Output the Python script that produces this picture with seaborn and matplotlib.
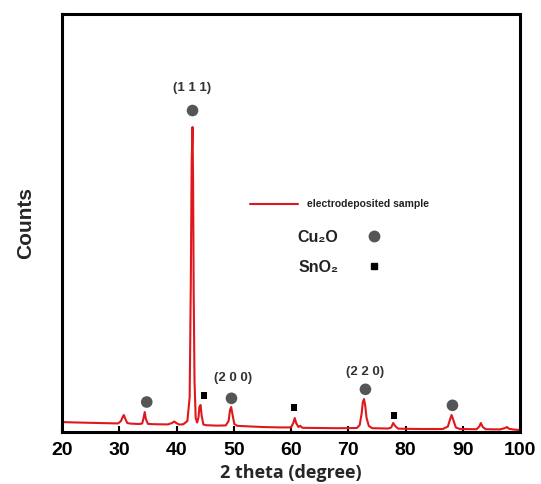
import numpy as np
import matplotlib
matplotlib.use("Agg")
import matplotlib.pyplot as plt
from matplotlib.lines import Line2D
import seaborn as sns

# XRD pattern (2 theta in degrees, counts in arbitrary units)
two_theta = [20.0, 22.0, 25.0, 28.0, 29.8, 30.3, 30.6, 30.8, 31.0, 31.4, 32.0, 33.5,
             34.0, 34.25, 34.45, 34.65, 35.0, 36.0, 38.5, 39.2, 39.6, 40.0, 40.5, 41.2,
             41.9, 42.3, 42.5, 42.65, 42.8, 42.9, 43.0, 43.15, 43.35, 43.6, 43.85, 44.0,
             44.2, 44.4, 44.7, 45.2, 47.0, 48.6, 49.1, 49.35, 49.55, 49.8, 50.1, 50.6,
             52.0, 55.0, 58.0, 60.0, 60.4, 60.65, 60.9, 61.3, 61.6, 62.0, 65.0, 68.0,
             71.5, 72.0, 72.35, 72.55, 72.75, 72.95, 73.2, 73.6, 74.2, 77.0, 77.5, 77.85,
             78.2, 78.7, 80.0, 83.0, 86.5, 87.4, 87.8, 88.05, 88.35, 88.8, 89.5, 92.4,
             92.9, 93.15, 93.5, 94.0, 96.5, 97.4, 97.7, 98.1, 99.0, 100.0]
counts = [100, 96, 92, 88, 86, 110, 150, 170, 140, 90, 84, 80,
          85, 140, 200, 130, 82, 78, 76, 90, 105, 88, 74, 78,
          110, 350, 1500, 2700, 3050, 2500, 1400, 500, 140, 95, 150, 250,
          270, 160, 75, 68, 64, 66, 110, 220, 250, 170, 80, 62,
          58, 50, 46, 46, 90, 140, 90, 50, 62, 42, 40, 38,
          40, 70, 190, 300, 330, 270, 140, 60, 38, 35, 45, 90,
          60, 34, 32, 30, 30, 55, 130, 170, 120, 45, 30, 28,
          55, 90, 50, 28, 26, 40, 50, 32, 24, 20]

# phase markers
cu2o_theta = [34.8, 42.8, 49.6, 73.0, 88.2]
cu2o_counts = [300, 3215, 337, 427, 267]
sno2_theta = [44.8, 60.5, 78.0]
sno2_counts = [367, 247, 167]

# Miller index labels
hkl_labels = ["(1 1 1)", "(2 0 0)", "(2 2 0)"]
hkl_theta = [42.8, 49.9, 72.9]
hkl_counts = [3440, 537, 597]

red = "#e0181b"
grey = "#555555"

sns.set_theme(style="white")
plt.rcParams["font.family"] = ["Liberation Sans", "DejaVu Sans"]

fig = plt.figure(figsize=(5.41, 4.84), dpi=100)
ax = fig.add_axes([0.1146, 0.1074, 0.8466, 0.8636])

sns.lineplot(x=two_theta, y=counts, ax=ax, color=red, linewidth=1.5,
             estimator=None, sort=False)
sns.scatterplot(x=cu2o_theta, y=cu2o_counts, ax=ax, color=grey, marker="o",
                s=70, edgecolor="none")
sns.scatterplot(x=sno2_theta, y=sno2_counts, ax=ax, color="black", marker="s",
                s=22, edgecolor="none")

for lab, tx, ty in zip(hkl_labels, hkl_theta, hkl_counts):
    ax.text(tx, ty, lab, ha="center", va="center", fontsize=9.5,
            fontweight="bold", color="#333333")

ax.set_xlim(20, 100)
ax.set_ylim(0, 4180)
ax.set_xticks(np.arange(20, 101, 10))
ax.set_yticks([])
ax.tick_params(axis="x", direction="in", length=4, width=1.5, bottom=True,
               labelsize=14, pad=7, colors="black")
for lab in ax.get_xticklabels():
    lab.set_fontweight("bold")
for sp in ax.spines.values():
    sp.set_linewidth(2.2)
    sp.set_color("black")

ax.set_xlabel("2 theta (degree)", fontsize=13, fontweight="bold", labelpad=4,
              family=["Open Sans", "DejaVu Sans"])
ax.set_ylabel("Counts", fontsize=15, fontweight="bold", labelpad=19)

# legend: sample line
h1 = [Line2D([], [], color=red, linewidth=1.5)]
leg1 = ax.legend(h1, ["electrodeposited sample"], loc="center left",
                 bbox_to_anchor=(0.41, 0.545), frameon=False, borderpad=0,
                 borderaxespad=0, handlelength=4.6, handletextpad=0.9,
                 prop={"size": 7.5, "weight": "bold"})
for t in leg1.get_texts():
    t.set_color("#222222")
ax.add_artist(leg1)

# legend: phases
h2 = [Line2D([], [], color=grey, marker="o", linestyle="none", markersize=7.5),
      Line2D([], [], color="black", marker="s", linestyle="none", markersize=4.5)]
leg2 = ax.legend(h2, ["Cu\u2082O", "SnO\u2082"], loc="center left",
                 bbox_to_anchor=(0.515, 0.43), frameon=False, borderpad=0,
                 borderaxespad=0, markerfirst=False, handlelength=1.0,
                 handletextpad=1.7, labelspacing=0.95,
                 prop={"size": 11.5, "weight": "bold"})
for t in leg2.get_texts():
    t.set_color("#222222")

fig.savefig("out.png", dpi=100)
